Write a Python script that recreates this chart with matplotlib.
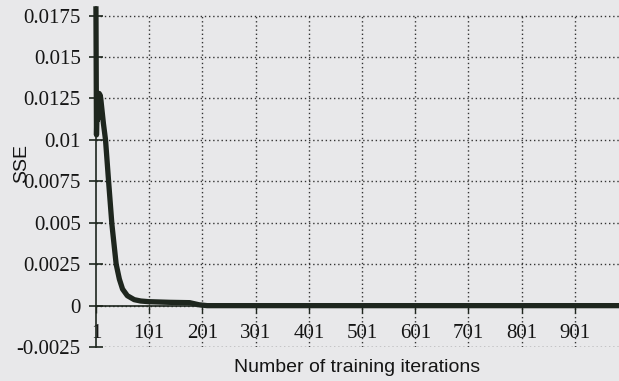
import matplotlib
matplotlib.use("Agg")
import matplotlib.pyplot as plt

# SSE vs training iteration
iters = [1, 2, 3, 4, 5, 6, 7, 8, 9, 10, 12, 15, 19, 25, 31, 39, 45, 51, 60, 73,
         85, 100, 140, 177, 195, 210, 400, 700, 984]
sse = [0.0179, 0.0103, 0.0118, 0.0112, 0.0124, 0.0119, 0.0128, 0.0122, 0.0127,
       0.0125, 0.0119, 0.0110, 0.0100, 0.0074, 0.0049, 0.0025, 0.0016, 0.0010,
       0.0006, 0.00036, 0.00028, 0.00024, 0.0002, 0.00018, 0.00005, 0.0, 0.0,
       0.0, 0.0]
x_ticks = [1, 101, 201, 301, 401, 501, 601, 701, 801, 901]
y_ticks = [-0.0025, 0, 0.0025, 0.005, 0.0075, 0.01, 0.0125, 0.015, 0.0175]
y_labels = ["-0.0025", "0", "0.0025", "0.005", "0.0075", "0.01", "0.0125",
            "0.015", "0.0175"]

BG = "#e8e8ea"
INK = "#1e261e"
TXT = "#151515"

fig = plt.figure(figsize=(6.19, 3.81), dpi=100, facecolor=BG)
ax = fig.add_axes([0.155, 0.089, 0.845, 0.892], facecolor=BG)
ax.set_xlim(1, 984)
ax.set_ylim(-0.0025, 0.018)

# dotted grid, vertical lines only span the labelled range
for y in y_ticks:
    ax.axhline(y, color="#333333", lw=1.0, ls=(0, (1, 2)), zorder=1)
for x in x_ticks[1:]:
    ax.vlines(x, -0.0025, 0.0175, color="#333333", lw=1.0, ls=(0, (1, 2)), zorder=1)

ax.plot(iters, sse, color=INK, lw=3.8, solid_joinstyle="round", zorder=3, clip_on=False)

for s in ("top", "right"):
    ax.spines[s].set_visible(False)
ax.spines["left"].set_position(("data", 1))
ax.spines["bottom"].set_position(("data", 0))
for s in ("left", "bottom"):
    ax.spines[s].set_color(INK)
    ax.spines[s].set_linewidth(1.2)

ax.set_yticks(y_ticks)
ax.set_yticklabels(y_labels, family="Liberation Serif", fontsize=15, color=TXT)
ax.set_xticks(x_ticks)
ax.set_xticklabels([str(v) for v in x_ticks], family="Liberation Serif", fontsize=15,
                   color=TXT)
ax.tick_params(axis="y", direction="inout", length=10, width=1.2, color=INK, pad=6)
ax.tick_params(axis="x", direction="out", length=5, width=1.0, color=INK, pad=8)

ax.set_xlabel("Number of training iterations", family="Liberation Sans", fontsize=14,
              color=TXT)
ax.xaxis.set_label_coords(0.5, -0.036)
ax.set_ylabel("SSE", family="Liberation Sans", fontsize=14, color=TXT)
ax.yaxis.set_label_coords(-0.125, 0.54)

fig.savefig("out.png", dpi=100, facecolor=BG)
